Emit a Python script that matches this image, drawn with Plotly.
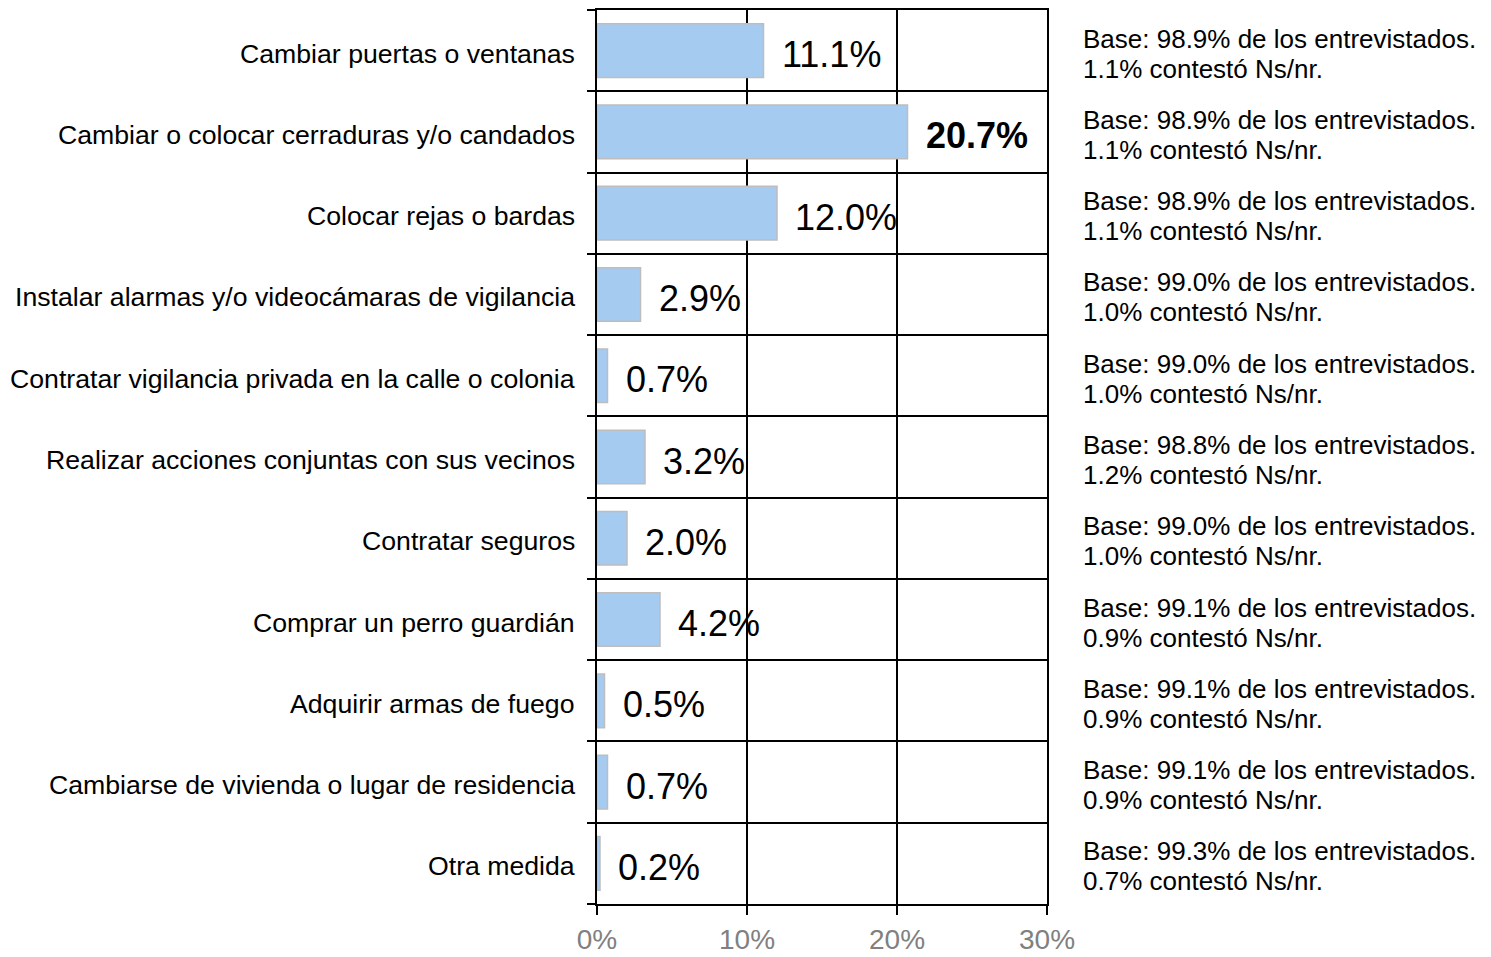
import plotly.graph_objects as go

categories = [
    "Cambiar puertas o ventanas",
    "Cambiar o colocar cerraduras y/o candados",
    "Colocar rejas o bardas",
    "Instalar alarmas y/o videocámaras de vigilancia",
    "Contratar vigilancia privada en la calle o colonia",
    "Realizar acciones conjuntas con sus vecinos",
    "Contratar seguros",
    "Comprar un perro guardián",
    "Adquirir armas de fuego",
    "Cambiarse de vivienda o lugar de residencia",
    "Otra medida",
]
values = [11.1, 20.7, 12.0, 2.9, 0.7, 3.2, 2.0, 4.2, 0.5, 0.7, 0.2]
base_pct = [98.9, 98.9, 98.9, 99.0, 99.0, 98.8, 99.0, 99.1, 99.1, 99.1, 99.3]
nsnr_pct = [1.1, 1.1, 1.1, 1.0, 1.0, 1.2, 1.0, 0.9, 0.9, 0.9, 0.7]
x_ticks = [0, 10, 20, 30]
x_ticktext = ["0%", "10%", "20%", "30%"]

FONT = "Liberation Sans, Arial, sans-serif"
n = len(categories)
ypos = list(range(n))

fig = go.Figure()
fig.add_trace(go.Bar(
    x=values, y=ypos, orientation="h",
    width=0.66,
    marker=dict(color="#A6CBF0", line=dict(color="#BDBDBD", width=1.5)),
    hoverinfo="skip",
))

vmax = max(values)
note_x = (1081 - 597) / 450
annotations = []
for i, v in enumerate(values):
    txt = f"{v:.1f}%"
    if v == vmax:
        txt = f"<b>{txt}</b>"
    annotations.append(dict(
        x=v, y=i, xref="x", yref="y", text=txt, showarrow=False,
        xanchor="left", yanchor="middle", xshift=16, yshift=-4,
        font=dict(family=FONT, size=36, color="#000000"),
    ))
    annotations.append(dict(
        x=note_x, y=i, xref="paper", yref="y",
        text=f"Base: {base_pct[i]:.1f}% de los entrevistados.",
        showarrow=False, xanchor="left", yanchor="middle", align="left", yshift=12,
        font=dict(family=FONT, size=26, color="#000000"),
    ))
    annotations.append(dict(
        x=note_x, y=i, xref="paper", yref="y",
        text=f"{nsnr_pct[i]:.1f}% contestó Ns/nr.",
        showarrow=False, xanchor="left", yanchor="middle", align="left", yshift=-18,
        font=dict(family=FONT, size=26, color="#000000"),
    ))
    annotations.append(dict(
        x=0, y=i, xref="x", yref="y", text=categories[i], showarrow=False,
        xanchor="right", yanchor="middle", align="right", xshift=-20, yshift=-3,
        font=dict(family=FONT, size=26.67, color="#000000"),
    ))

fig.update_layout(
    width=1491, height=957,
    margin=dict(l=589, r=452, t=2, b=61),
    plot_bgcolor="#FFFFFF", paper_bgcolor="#FFFFFF",
    showlegend=False,
    bargap=0.34,
    annotations=annotations,
    xaxis=dict(
        range=[0, 30], tickvals=x_ticks, ticktext=x_ticktext,
        showgrid=True, gridcolor="#000000", gridwidth=2,
        showline=True, linecolor="#000000", linewidth=2, mirror=True,
        ticks="outside", ticklen=9, tickwidth=2, tickcolor="#000000",
        ticklabelstandoff=0,
        tickfont=dict(family=FONT, size=28, color="#808080"),
        zeroline=False, fixedrange=True, automargin=False,
    ),
    yaxis=dict(
        range=[n - 0.5, -0.5], tickvals=ypos, ticktext=[""] * n,
        showgrid=False, ticks="",
        showline=True, linecolor="#000000", linewidth=2, mirror=True,
        zeroline=False, fixedrange=True, automargin=False,
        minor=dict(
            tickvals=[i - 0.5 for i in range(n + 1)],
            showgrid=True, gridcolor="#000000", gridwidth=2,
            ticks="outside", ticklen=8, tickwidth=2, tickcolor="#000000",
        ),
    ),
)

fig.write_html("out.html")
